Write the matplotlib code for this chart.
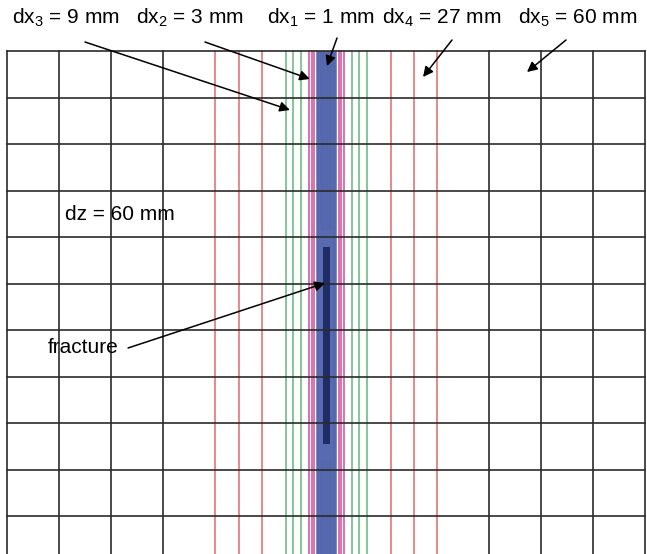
import matplotlib
matplotlib.use("Agg")
import matplotlib.pyplot as plt
import numpy as np

plt.rcParams["font.family"] = ["Liberation Sans", "DejaVu Sans"]
plt.rcParams["mathtext.default"] = "regular"

# Grid definition (mm)
cell_sizes = [60, 27, 9, 3, 1, 3, 9, 27, 60]
cell_counts = [4, 3, 3, 3, 22, 3, 3, 3, 4]
size_colors = {60: "#2b2b2b", 27: "#e06a6a", 9: "#62b878", 3: "#d44a96", 1: "#5a6cb2"}
dz = 60
n_rows = 11

# Fracture (mm)
fracture_x = (364, 372)
fracture_z = (253, 507)

# Labels: text, text position, arrow start, arrow end (mm)
top_labels = ["dx$_3$ = 9 mm", "dx$_2$ = 3 mm", "dx$_1$ = 1 mm", "dx$_4$ = 27 mm", "dx$_5$ = 60 mm"]
top_label_x = [67.7, 210.7, 361.8, 501.4, 658.2]
arrow_start = [(89.6, -11.6), (228, -11.6), (380.3, -16.8), (512.9, -14.2), (644.4, -14.2)]
arrow_end = [(326, 76.1), (349, 36.1), (368.7, 19.4), (479.5, 33.5), (599.4, 27.1)]

# Column boundaries
widths = np.repeat(cell_sizes, cell_counts)
edges = np.concatenate([[0], np.cumsum(widths)])
width_total = edges[-1]

fig = plt.figure(figsize=(6.47, 5.54), dpi=100)
ax = fig.add_axes([0, 0, 1, 1])
ax.set_xlim(-8.4, 737.8)
ax.set_ylim(649, -65.8)
ax.axis("off")

z_bottom = dz * n_rows

# blue fine-grid band
dx1_start = edges[np.argmax(widths == 1)]
dx1_end = dx1_start + widths[widths == 1].sum()
ax.fill_between([dx1_start, dx1_end], 0, z_bottom, color="#4a5ca4", lw=0, zorder=1)
ax.fill_between([360.7, 375.7], 231, 528, color="#5567ac", lw=0, zorder=1.5)

# coloured vertical lines (colour of the finer neighbouring cell)
for i, x in enumerate(edges):
    left = widths[i - 1] if i > 0 else 60
    right = widths[i] if i < len(widths) else 60
    s = min(left, right)
    if s == 60:
        continue
    if s == 1 and left == 1 and right == 1:
        ax.plot([x, x], [0, z_bottom], color=size_colors[1], lw=0.5, zorder=2)
        continue
    ax.plot([x, x], [0, z_bottom], color=size_colors[s], lw=1.1, zorder=2)

# fracture
ax.fill_between(fracture_x, fracture_z[0], fracture_z[1], color="#1f2c66", lw=0, zorder=3)

# black coarse grid
for i, x in enumerate(edges):
    left = widths[i - 1] if i > 0 else 60
    right = widths[i] if i < len(widths) else 60
    if min(left, right) == 60:
        ax.plot([x, x], [0, z_bottom], color=size_colors[60], lw=1.2, zorder=4)
for k in range(n_rows + 1):
    ax.plot([0, width_total], [k * dz, k * dz], color=size_colors[60], lw=1.2, zorder=4)

# top labels with arrows
arrow_kw = dict(arrowstyle="-|>", color="black", lw=1.1, mutation_scale=15, shrinkA=0, shrinkB=0)
for txt, tx, s, e in zip(top_labels, top_label_x, arrow_start, arrow_end):
    ax.text(tx, -42.6, txt, ha="center", va="center", fontsize=15, zorder=6)
    ax.annotate("", xy=e, xytext=s, arrowprops=arrow_kw, zorder=6)

ax.text(66.5, 211.6, "dz = 60 mm", ha="left", va="center", fontsize=15, zorder=6)
ax.text(46.9, 383.2, "fracture", ha="left", va="center", fontsize=15, zorder=6)
ax.annotate("", xy=(366.4, 299.4), xytext=(139.3, 383.2), arrowprops=arrow_kw, zorder=6)

fig.savefig("out.png", dpi=100)
